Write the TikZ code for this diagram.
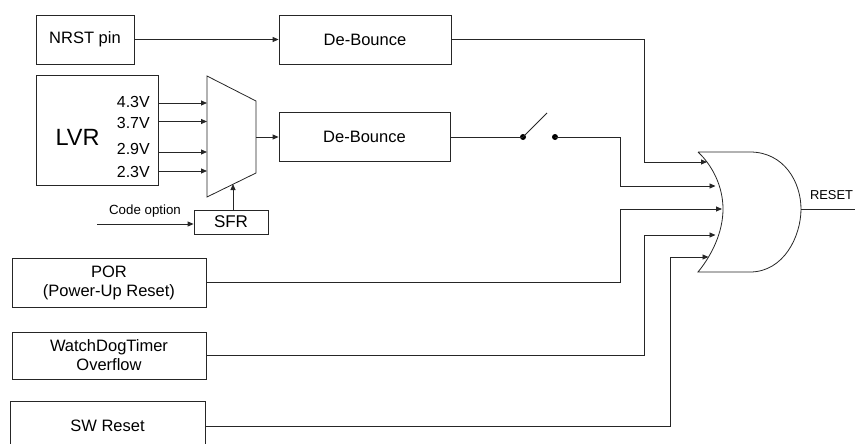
\documentclass[tikz,border=0pt]{standalone}
\usepackage{fontspec}
\setmainfont{Liberation Sans}
\usetikzlibrary{arrows.meta}
\begin{document}
\begin{tikzpicture}[x=1pt,y=-1pt,
  ln/.style={line width=0.8pt,draw=black!85},
  arr/.style={ln,-{Triangle[length=6pt,width=5pt]}},
  blk/.style={draw=black!85,line width=0.8pt,inner sep=0pt,align=center,
    font=\fontsize{16.5}{19}\selectfont},
  vlab/.style={anchor=east,inner sep=0pt,font=\fontsize{16}{18}\selectfont},
  dot/.style={circle,fill=black,inner sep=0pt,minimum size=6pt}]
\useasboundingbox (0,0) rectangle (855,444);
% blocks
\node[blk,minimum width=98pt,minimum height=49pt] (nrst) at (85,39.5) {NRST pin};
\node[blk,minimum width=172pt,minimum height=49pt] (db1) at (365,39.5) {De-Bounce};
\node[blk,minimum width=122pt,minimum height=110pt] (lvr) at (97,130) {};
\node[inner sep=0pt,font=\fontsize{23.5}{26}\selectfont] (lvrt) at (77.5,137) {LVR};
\node[vlab] (v1) at (150,102) {4.3V};
\node[vlab] (v2) at (150,123) {3.7V};
\node[vlab] (v3) at (150,149) {2.9V};
\node[vlab] (v4) at (150,172) {2.3V};
\node[blk,minimum width=171pt,minimum height=49pt] (db2) at (364.5,136.5) {De-Bounce};
\node[blk,minimum width=74pt,minimum height=24pt,font=\fontsize{17}{19}\selectfont] (sfr) at (231,222) {SFR};
\node[blk,minimum width=194pt,minimum height=49pt] (por) at (109,282.5) {POR\\(Power-Up Reset)};
\node[blk,minimum width=194pt,minimum height=47pt] (wdt) at (109,355.5) {WatchDogTimer\\Overflow};
\node[blk,minimum width=195pt,minimum height=50pt] (sw) at (107.5,426) {SW Reset};
% mux
\draw[ln] (207,76) coordinate (mtl) -- (256,101) -- (256,173) -- (207,197) -- cycle;
\coordinate (mout) at (256,137);
\coordinate (min1) at (207,103);
\coordinate (min2) at (207,121.5);
\coordinate (min3) at (207,152);
\coordinate (min4) at (207,171);
\coordinate (msel) at (233,184);
\draw[arr] (lvr.east |- min1) -- (min1);
\draw[arr] (lvr.east |- min2) -- (min2);
\draw[arr] (lvr.east |- min3) -- (min3);
\draw[arr] (lvr.east |- min4) -- (min4);
\draw[arr] (mout) -- (db2.west |- mout);
\draw[arr] (sfr.north -| msel) -- (msel);
\coordinate (code) at (97,224);
\draw[arr] (code) -- (sfr.west |- code);
\node[inner sep=0pt,font=\fontsize{13.3}{15}\selectfont] (codet) at (145,211) {Code option};
\draw[arr] (nrst.east) -- (db1.west |- nrst.east);
% OR gate
\draw[ln] (698,152) -- (750,152) .. controls (784,152) and (801,182) .. (801,209)
  .. controls (801,236) and (784,272) .. (750,272) -- (698,272)
  .. controls (712,255) and (723,232) .. (723,209)
  .. controls (723,186) and (712,165) .. (698,152);
\coordinate (gout) at (801,209);
\coordinate (in1) at (707,162);
\coordinate (in2) at (715.5,186);
\coordinate (in3) at (722,209);
\coordinate (in4) at (715.5,235);
\coordinate (in5) at (708.5,257);
\coordinate (rout) at (855,209);
\draw[ln] (gout) -- (rout);
\node[inner sep=0pt,font=\fontsize{12.9}{15}\selectfont] (reset) at (831.5,195) {RESET};
% switch
\node[dot] (s1) at (523,137) {};
\node[dot] (s2) at (555,137) {};
\coordinate (lever) at (547,113);
\draw[ln] (db2.east |- s1) -- (s1.center);
\draw[ln] (s1.center) -- (lever);
% connections to gate
\draw[arr] (db1.east) -- (644,39.5) -- (644,162) -- (in1);
\draw[arr] (s2.center) -- (620,137) -- (620,186) -- (in2);
\draw[arr] (por.east) -- (620,282.5) -- (620,209) -- (in3);
\draw[arr] (wdt.east) -- (644,355.5) -- (644,235) -- (in4);
\draw[arr] (sw.east) -- (670,426) -- (670,257) -- (in5);
\end{tikzpicture}
\end{document}
